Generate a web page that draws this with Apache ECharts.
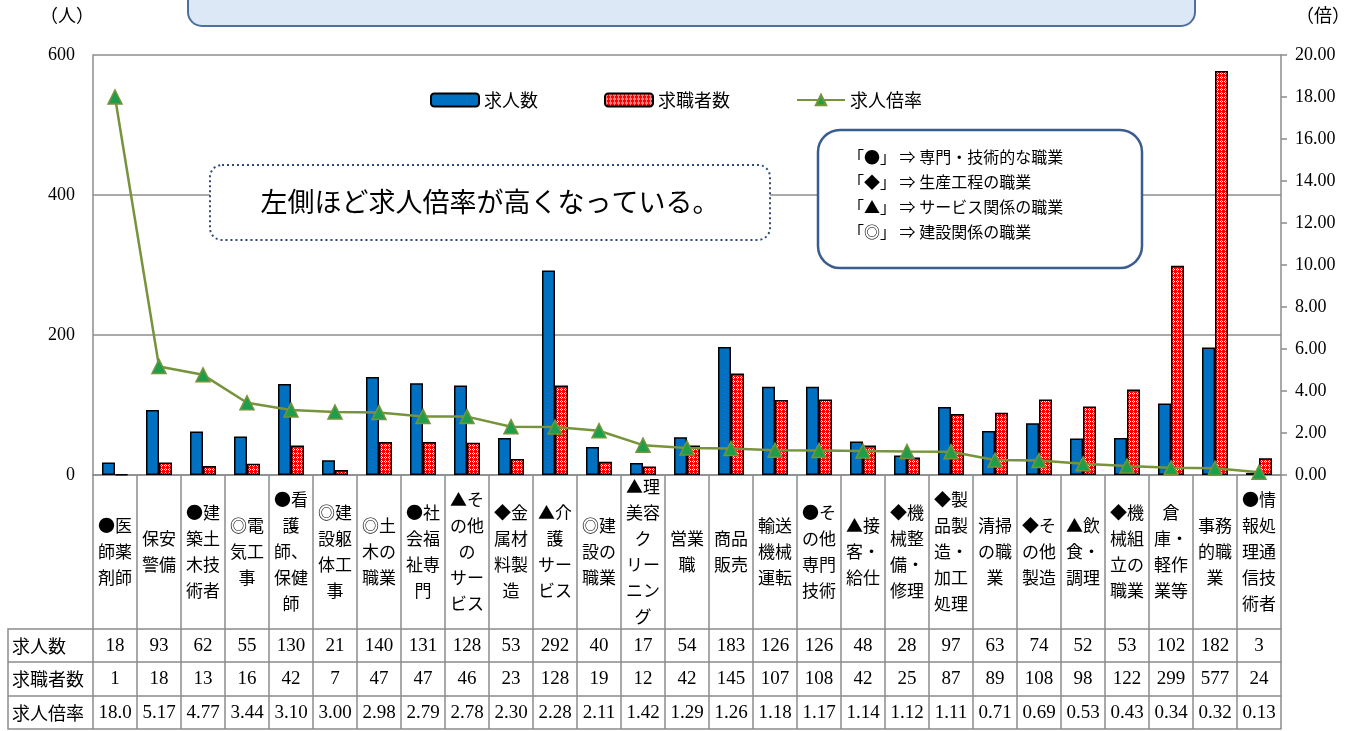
<!DOCTYPE html>
<html>
<head>
<meta charset="utf-8">
<script src="https://cdn.jsdelivr.net/npm/echarts@6/dist/echarts.min.js"></script>
<style>
  html, body { margin: 0; padding: 0; background: #fff; }
  #chart { width: 1363px; height: 731px; }
</style>
</head>
<body>
<div id="chart"></div>
<script>
// 職業（縦書き風に改行済み）
const categories = [
  '●医\n師薬\n剤師', '保安\n警備', '●建\n築土\n木技\n術者', '◎電\n気工\n事',
  '●看\n護\n師、\n保健\n師', '◎建\n設躯\n体工\n事', '◎土\n木の\n職業', '●社\n会福\n祉専\n門',
  '▲そ\nの他\nの\nサー\nビス', '◆金\n属材\n料製\n造', '▲介\n護\nサー\nビス', '◎建\n設の\n職業',
  '▲理\n美容\nク\nリー\nニン\nグ', '営業\n職', '商品\n販売', '輸送\n機械\n運転',
  '●そ\nの他\n専門\n技術', '▲接\n客・\n給仕', '◆機\n械整\n備・\n修理', '◆製\n品製\n造・\n加工\n処理',
  '清掃\nの職\n業', '◆そ\nの他\n製造', '▲飲\n食・\n調理', '◆機\n械組\n立の\n職業',
  '倉\n庫・\n軽作\n業等', '事務\n的職\n業', '●情\n報処\n理通\n信技\n術者'
];
const jobOffers  = [18, 93, 62, 55, 130, 21, 140, 131, 128, 53, 292, 40, 17, 54, 183, 126, 126, 48, 28, 97, 63, 74, 52, 53, 102, 182, 3];
const jobSeekers = [1, 18, 13, 16, 42, 7, 47, 47, 46, 23, 128, 19, 12, 42, 145, 107, 108, 42, 25, 87, 89, 108, 98, 122, 299, 577, 24];
const offerRatio = [18.0, 5.17, 4.77, 3.44, 3.10, 3.00, 2.98, 2.79, 2.78, 2.30, 2.28, 2.11, 1.42, 1.29, 1.26, 1.18, 1.17, 1.14, 1.12, 1.11, 0.71, 0.69, 0.53, 0.43, 0.34, 0.32, 0.13];
const rowNames = ['求人数', '求職者数', '求人倍率'];
const noteLines = [
  '「●」 ⇒ 専門・技術的な職業',
  '「◆」 ⇒ 生産工程の職業',
  '「▲」 ⇒ サービス関係の職業',
  '「◎」 ⇒ 建設関係の職業'
];

const JP = '"Noto Sans CJK JP", sans-serif';
const NUM = '"Liberation Serif", serif';
const LINE = '#8c8c8c';

// 求職者数の赤白ドット
function makeDots() {
  const c = document.createElement('canvas');
  c.width = 4; c.height = 4;
  const g = c.getContext('2d');
  g.fillStyle = '#ff0000';
  g.fillRect(0, 0, 4, 4);
  g.fillStyle = '#ffffff';
  g.fillRect(1, 0, 1, 1); g.fillRect(0, 1, 1, 1);
  g.fillRect(2, 1, 1, 1); g.fillRect(1, 2, 1, 1);
  return c;
}
const dots = { image: makeDots(), repeat: 'repeat' };

const ratioText = offerRatio.map(v => v >= 10 ? v.toFixed(1) : v.toFixed(2));

// 表の1行分（x軸を下にずらして使う）
function tableAxis(data, offset, tickLen) {
  return {
    type: 'category', data: data, position: 'bottom', offset: offset,
    axisLine: { show: true, onZero: false, lineStyle: { color: LINE, width: 1.5 } },
    axisTick: { show: tickLen > 0, interval: 0, length: tickLen, lineStyle: { color: LINE, width: 1.5 } },
    axisLabel: { show: true, interval: 0, margin: 17, verticalAlign: 'middle',
      fontFamily: NUM, fontSize: 19, color: '#000' }
  };
}

const chart = echarts.init(document.getElementById('chart'));
const option = {
  backgroundColor: '#fff',
  animation: false,
  grid: { left: 93, right: 82, top: 55, bottom: 256, containLabel: false, outerBoundsMode: 'none' },
  legend: {
    left: 425, top: 86, itemWidth: 48, itemHeight: 13, itemGap: 66,
    textStyle: { fontFamily: JP, fontSize: 18, color: '#000' },
    data: ['求人数', '求職者数', '求人倍率']
  },
  xAxis: [
    {
      type: 'category', data: categories,
      axisLine: { onZero: false, lineStyle: { color: LINE, width: 1.5 } },
      axisTick: { show: true, interval: 0, length: 154, lineStyle: { color: LINE, width: 1.5 } },
      axisLabel: { interval: 0, margin: 77, verticalAlign: 'middle', align: 'center',
        fontFamily: JP, fontSize: 17, lineHeight: 26, color: '#000' }
    },
    tableAxis(jobOffers.map(String), 154, 33),
    tableAxis(jobSeekers.map(String), 187, 34),
    tableAxis(ratioText, 221, 33),
    tableAxis(categories.map(() => ''), 254, 0)
  ],
  yAxis: [
    {
      type: 'value', min: 0, max: 600, interval: 200,
      axisLine: { show: true, lineStyle: { color: LINE, width: 1.5 } },
      axisTick: { show: false },
      splitLine: { lineStyle: { color: LINE, width: 1.5 } },
      axisLabel: { margin: 18, fontFamily: NUM, fontSize: 18, color: '#000' }
    },
    {
      type: 'value', min: 0, max: 20, interval: 2, position: 'right',
      axisLine: { show: true, lineStyle: { color: LINE, width: 1.5 } },
      axisTick: { show: true, length: 6, lineStyle: { color: LINE, width: 1.5 } },
      splitLine: { show: false },
      axisLabel: { margin: 14, fontFamily: NUM, fontSize: 18, color: '#000',
        formatter: v => v.toFixed(2) }
    }
  ],
  series: [
    {
      name: '求人数', type: 'bar', data: jobOffers, barWidth: 13, barGap: '0%',
      itemStyle: { color: '#0070C0', borderColor: '#000', borderWidth: 1.5 }
    },
    {
      name: '求職者数', type: 'bar', data: jobSeekers, barWidth: 13,
      itemStyle: { color: dots, borderColor: '#000', borderWidth: 1.5 }
    },
    {
      name: '求人倍率', type: 'line', yAxisIndex: 1, data: offerRatio,
      symbol: 'triangle', symbolSize: 14, z: 5,
      lineStyle: { color: '#77933C', width: 2.5 },
      itemStyle: { color: '#1E9E4A', borderColor: '#77933C', borderWidth: 1.5 }
    }
  ],
  graphic: [
    // 上部のタイトル枠（上端で切れている）
    { type: 'rect', z: 10, shape: { x: 188, y: -40, width: 1007, height: 66, r: 14 },
      style: { fill: '#DCE8F6', stroke: '#4F6F9F', lineWidth: 2 } },
    { type: 'text', left: 40, top: 6, style: { text: '（人）', font: '18px ' + JP, fill: '#000' } },
    { type: 'text', left: 1296, top: 6, style: { text: '（倍）', font: '18px ' + JP, fill: '#000' } },
    // 吹き出し
    { type: 'rect', z: 10, shape: { x: 210, y: 165, width: 560, height: 75, r: 12 },
      style: { fill: '#fff', stroke: '#2F4A7A', lineWidth: 2, lineDash: [2, 3] } },
    { type: 'text', z: 11, x: 490, y: 202,
      style: { text: '左側ほど求人倍率が高くなっている。', font: '27px ' + JP, fill: '#000',
        textAlign: 'center', textVerticalAlign: 'middle' } },
    // 記号の説明
    { type: 'rect', z: 10, shape: { x: 818, y: 130, width: 324, height: 138, r: 22 },
      style: { fill: '#fff', stroke: '#3A5D8F', lineWidth: 2.5 } },
    { type: 'text', z: 11, x: 848, y: 144,
      style: { text: noteLines.join('\n'), font: '16px ' + JP, lineHeight: 25, fill: '#000' } },
    // 表の見出し列
    { type: 'polyline', z: 10, shape: { points: [[93, 629], [8, 629], [8, 729], [93, 729]] },
      style: { stroke: LINE, lineWidth: 1.5, fill: null } },
    { type: 'line', z: 10, shape: { x1: 8, y1: 662, x2: 93, y2: 662 }, style: { stroke: LINE, lineWidth: 1.5 } },
    { type: 'line', z: 10, shape: { x1: 8, y1: 696, x2: 93, y2: 696 }, style: { stroke: LINE, lineWidth: 1.5 } },
    { type: 'text', z: 11, x: 12, y: 646, style: { text: rowNames[0], font: '18px ' + JP, fill: '#000', textVerticalAlign: 'middle' } },
    { type: 'text', z: 11, x: 12, y: 679, style: { text: rowNames[1], font: '18px ' + JP, fill: '#000', textVerticalAlign: 'middle' } },
    { type: 'text', z: 11, x: 12, y: 713, style: { text: rowNames[2], font: '18px ' + JP, fill: '#000', textVerticalAlign: 'middle' } }
  ]
};
chart.setOption(option);
</script>
</body>
</html>
